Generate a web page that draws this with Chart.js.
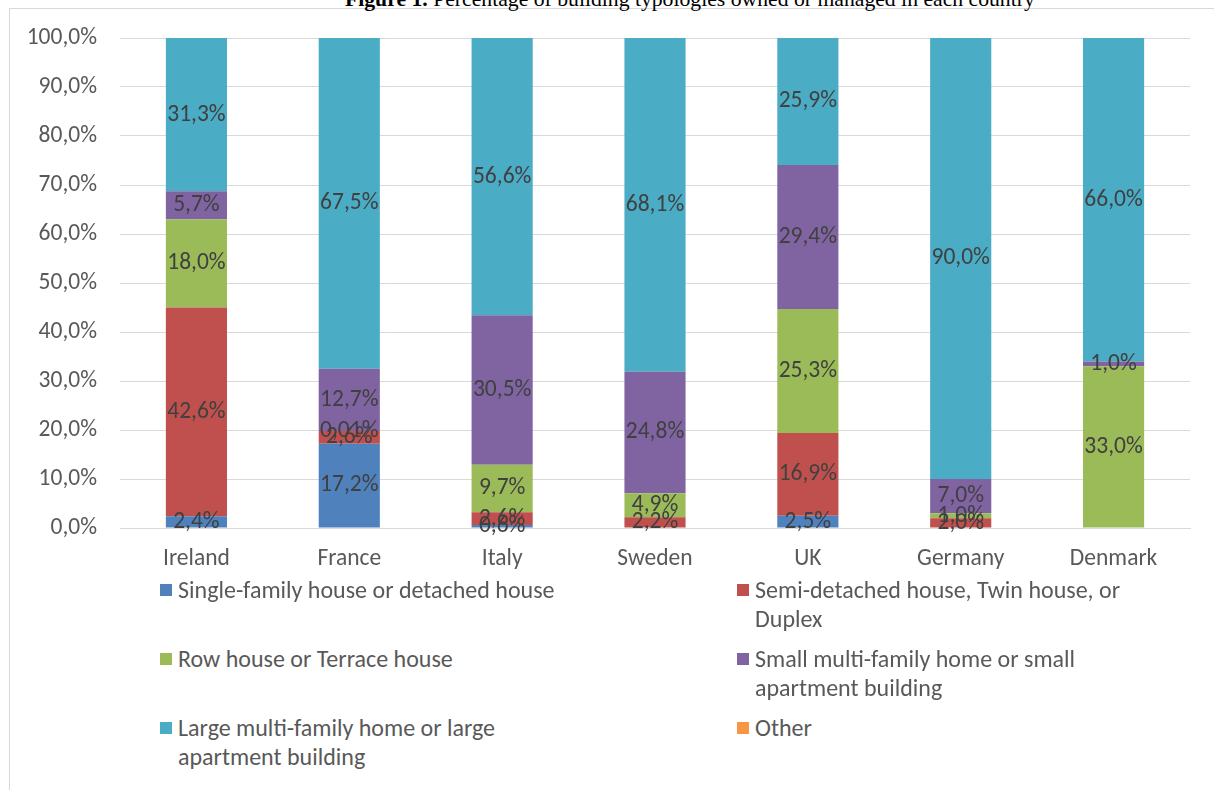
<!DOCTYPE html>
<html>
<head>
<meta charset="utf-8">
<script src="https://cdn.jsdelivr.net/npm/chart.js@4"></script>
<style>
  body { margin: 0; background: #fff; width: 1214px; height: 790px; overflow: hidden; position: relative; font-family: Carlito, Lato, "Open Sans", sans-serif; }
  #frame { position: absolute; left: 9px; top: 8px; width: 1220px; height: 800px; border: 1px solid #d9d9d9; box-sizing: border-box; }
  #title { position: absolute; left: 345px; top: -12px; font-family: "Liberation Serif", "Times New Roman", serif; font-size: 21.7px; line-height: 22px; color: #000; white-space: nowrap; }
  #wrap { position: absolute; left: 0; top: 0; width: 1214px; height: 580px; }
  .leg { position: absolute; font-size: 24px; line-height: 29px; color: #595959; white-space: nowrap; }
  .leg i { position: absolute; left: -18px; top: 9px; width: 12px; height: 12px; }
</style>
</head>
<body>
<div id="frame"></div>
<div id="title"><b>Figure 1.</b> Percentage of building typologies owned or managed in each country</div>
<div id="wrap"><canvas id="chart"></canvas></div>
<div id="legend"></div>
<script>
    /* data */
    const countries = ['Ireland', 'France', 'Italy', 'Sweden', 'UK', 'Germany', 'Denmark'];
    const singleFamily = [2.4, 17.2, 0.6, 0, 2.5, 0, 0];
    const semiDetached = [42.6, 2.6, 2.6, 2.2, 16.9, 2.0, 0];
    const rowHouse = [18.0, 0.01, 9.7, 4.9, 25.3, 1.0, 33.0];
    const smallMulti = [5.7, 12.7, 30.5, 24.8, 29.4, 7.0, 1.0];
    const largeMulti = [31.3, 67.5, 56.6, 68.1, 25.9, 90.0, 66.0];
    const other = [0, 0, 0, 0, 0, 0, 0];
    const yTicks = [0, 10, 20, 30, 40, 50, 60, 70, 80, 90, 100];

    const seriesNames = [
        'Single-family house or detached house',
        'Semi-detached house, Twin house, or\nDuplex',
        'Row house or Terrace house',
        'Small multi-family home or small\napartment building',
        'Large multi-family home or large\napartment building',
        'Other'
    ];
    const seriesData = [singleFamily, semiDetached, rowHouse, smallMulti, largeMulti, other];
    const colors = ['#4F81BD', '#C0504D', '#9BBB59', '#8064A2', '#4BACC6', '#F79646'];
    const fontFam = 'Carlito, Lato, "Open Sans", sans-serif';

    function pct(v) {
        var s = v < 0.1 ? v.toFixed(2) : v.toFixed(1);
        return s.replace('.', ',') + '%';
    }

    var datasets = [];
    for (var i = 0; i < seriesData.length; i++) {
        datasets.push({
            label: seriesNames[i],
            data: seriesData[i],
            backgroundColor: colors[i],
            borderWidth: 0,
            categoryPercentage: 1,
            barPercentage: 0.4
        });
    }

    /* value labels in the middle of each segment */
    const segLabels = {
        id: 'segLabels',
        afterDatasetsDraw(chart) {
            var ctx = chart.ctx;
            ctx.save();
            ctx.font = '23.5px ' + fontFam;
            ctx.fillStyle = '#404040';
            ctx.textAlign = 'center';
            ctx.textBaseline = 'middle';
            chart.data.datasets.forEach(function(ds, di) {
                var meta = chart.getDatasetMeta(di);
                meta.data.forEach(function(bar, j) {
                    var v = ds.data[j];
                    if (!v) return;
                    var mid = (bar.y + bar.base) / 2;
                    ctx.fillText(pct(v), bar.x, mid);
                });
            });
            ctx.restore();
        }
    };

    const config = {
        type: 'bar',
        data: { labels: countries, datasets: datasets },
        options: {
            responsive: true,
            maintainAspectRatio: false,
            animation: false,
            layout: { padding: { top: 38, right: 24, left: 0, bottom: 0 } },
            plugins: {
                legend: { display: false },
                tooltip: { enabled: false }
            },
            scales: {
                x: {
                    stacked: true,
                    grid: { display: false, drawTicks: false },
                    border: { color: '#d9d9d9' },
                    ticks: { color: '#595959', font: { size: 23.5, family: fontFam }, padding: 17 },
                    afterFit: function(scale) { scale.height = 52; }
                },
                y: {
                    stacked: true,
                    min: 0,
                    max: 100,
                    afterBuildTicks: function(scale) { scale.ticks = yTicks.map(function(v) { return { value: v }; }); },
                    grid: { color: '#d9d9d9', drawTicks: false },
                    border: { display: false },
                    ticks: {
                        color: '#595959',
                        font: { size: 23.5, family: fontFam },
                        padding: 23,
                        callback: function(v) { return v.toFixed(1).replace('.', ',') + '%'; }
                    },
                    afterFit: function(scale) { scale.width = 120; }
                }
            }
        },
        plugins: [segLabels]
    };

    var ctx = document.getElementById('chart').getContext('2d');
    window.chart = new Chart(ctx, config);

    /* legend, two columns */
    var legPos = [[178, 575], [755, 575], [178, 644], [755, 644], [178, 713], [755, 713]];
    var legend = document.getElementById('legend');
    for (var k = 0; k < seriesNames.length; k++) {
        var d = document.createElement('div');
        d.className = 'leg';
        d.style.left = legPos[k][0] + 'px';
        d.style.top = legPos[k][1] + 'px';
        d.innerHTML = '<i style="background:' + colors[k] + '"></i>' + seriesNames[k].replace('\n', '<br>');
        legend.appendChild(d);
    }
</script>
</body>
</html>
